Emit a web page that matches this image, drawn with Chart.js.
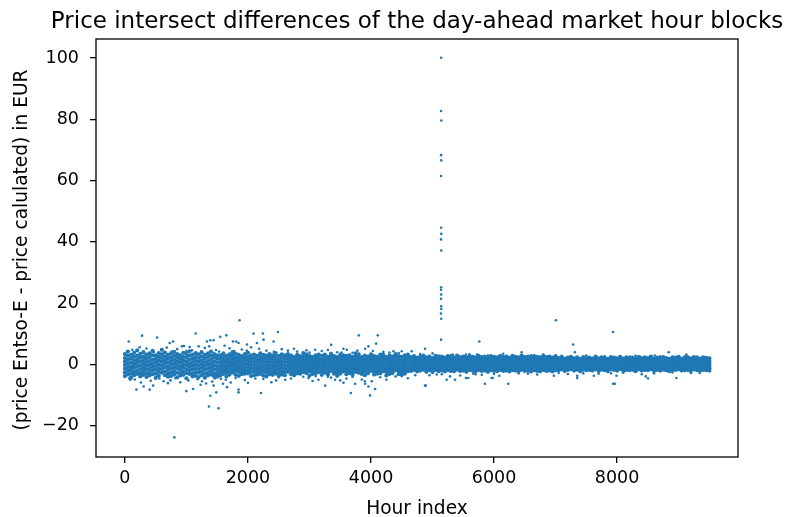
<!DOCTYPE html>
<html>
<head>
<meta charset="utf-8">
<title>Price intersect differences</title>
<script src="https://cdn.jsdelivr.net/npm/chart.js@4/dist/chart.umd.min.js"></script>
<style>
  html, body { margin: 0; padding: 0; background: #fff; }
  canvas { display: block; }
</style>
</head>
<body>
<canvas id="diffChart" width="785" height="517"></canvas>
<script>
const chartTitle = 'Price intersect differences of the day-ahead market hour blocks';
const xAxisTitle = 'Hour index';
const yAxisTitle = '(price Entso-E - price calulated) in EUR';

const hourTicks = [0, 2000, 4000, 6000, 8000];
const diffTicks = [-20, 0, 20, 40, 60, 80, 100];

// dense band around zero, one column of values every 50 hours
const bandStep = 50;

// hours 0 - 1500
const bandEarly = [
  [3.4,2.1,0.9,-0.2,-1.4,-2.6,-3.8],
  [4.2,2.8,1.5,0.3,-0.9,-2.1,-3.3],
  [3.1,1.9,0.6,-0.6,-1.8,-3.0,-4.3],
  [3.8,2.5,1.2,0.1,-1.1,-2.4,-3.5],
  [2.9,1.7,0.5,-0.7,-1.9,-3.1,4.6],
  [3.5,2.3,1.0,-0.3,-1.5,-2.8,-3.9],
  [4.0,2.6,1.4,0.2,-1.0,-2.2,-3.4],
  [3.2,2.0,0.8,-0.4,-1.6,-2.9,-4.1],
  [3.6,2.4,1.1,-0.1,-1.3,-2.5,-3.6],
  [4.4,3.0,1.6,0.4,-0.8,-2.0,-3.2],
  [3.0,1.8,0.7,-0.5,-1.7,-3.0,-4.4],
  [3.7,2.5,1.3,0.0,-1.2,-2.4,-3.7],
  [3.3,2.1,0.9,-0.3,-1.5,-2.7,4.8],
  [3.9,2.6,1.4,0.2,-1.0,-2.3,-3.5],
  [3.1,1.9,0.6,-0.6,-1.8,-3.1,-4.0],
  [3.6,2.3,1.1,-0.1,-1.3,-2.6,-3.8],
  [4.1,2.8,1.5,0.3,-0.9,-2.2,-3.3],
  [3.4,2.2,1.0,-0.2,-1.4,-2.7,-4.2],
  [3.0,1.8,0.6,-0.6,-1.8,-3.0,-3.6],
  [3.8,2.5,1.3,0.1,-1.1,-2.4,-3.4],
  [3.5,2.3,1.0,-0.2,-1.5,-2.8,-4.5],
  [4.3,2.9,1.6,0.4,-0.8,-2.0,-3.1],
  [3.2,2.0,0.8,-0.4,-1.6,-2.9,-3.9],
  [3.7,2.4,1.2,0.0,-1.2,-2.5,-3.7],
  [3.3,2.1,0.9,-0.3,-1.5,-2.7,-4.1],
  [3.9,2.6,1.3,0.1,-1.1,-2.3,-3.5],
  [3.1,1.9,0.7,-0.5,-1.7,-3.0,-4.3],
  [3.6,2.4,1.1,-0.1,-1.3,-2.6,-3.6],
  [4.2,2.8,1.5,0.3,-0.9,-2.1,-3.3],
  [3.4,2.2,0.9,-0.3,-1.5,-2.8,-3.9],
  [3.0,1.8,0.6,-0.6,-1.8,-3.0,-4.0]
];

// hours 1550 - 2600
const bandSecond = [
  [3.0,1.9,0.8,-0.3,-1.4,-2.5,-3.6],
  [3.6,2.4,1.3,0.2,-0.9,-2.0,-3.1],
  [2.8,1.7,0.6,-0.5,-1.6,-2.7,-3.9],
  [3.3,2.2,1.1,0.0,-1.1,-2.2,-3.3],
  [2.9,1.8,0.7,-0.4,-1.5,-2.6,4.0],
  [3.5,2.3,1.2,0.1,-1.0,-2.1,-3.4],
  [3.1,2.0,0.9,-0.2,-1.3,-2.4,-3.7],
  [2.7,1.6,0.5,-0.6,-1.7,-2.8,-3.2],
  [3.4,2.3,1.2,0.1,-1.0,-2.1,-3.0],
  [3.8,2.5,1.4,0.3,-0.8,-1.9,-2.9],
  [3.0,1.9,0.8,-0.3,-1.4,-2.5,-3.8],
  [3.2,2.1,1.0,-0.1,-1.2,-2.3,-3.5],
  [2.8,1.7,0.6,-0.5,-1.6,-2.7,-3.3],
  [3.6,2.4,1.3,0.2,-0.9,-2.0,-3.1],
  [3.1,2.0,0.9,-0.2,-1.3,-2.4,-3.6],
  [2.9,1.8,0.7,-0.4,-1.5,-2.6,-3.9],
  [3.4,2.3,1.2,0.1,-1.0,-2.1,-3.2],
  [3.0,1.9,0.8,-0.3,-1.4,-2.5,-3.4],
  [3.7,2.5,1.3,0.2,-0.9,-2.0,-3.0],
  [2.8,1.7,0.6,-0.5,-1.6,-2.7,-3.7],
  [3.3,2.2,1.1,0.0,-1.1,-2.2,-3.3],
  [3.0,1.9,0.8,-0.3,-1.4,-2.5,-3.5]
];

// hours 2650 - 4600
const bandMiddle = [
  [2.6,1.6,0.6,-0.4,-1.4,-2.4,3.4],
  [2.9,1.9,0.9,-0.1,-1.1,-2.1,-3.2],
  [2.4,1.4,0.4,-0.6,-1.6,-2.6,-3.5],
  [3.1,2.1,1.1,0.1,-0.9,-1.9,-2.9],
  [2.7,1.7,0.7,-0.3,-1.3,-2.3,-3.0],
  [2.5,1.5,0.5,-0.5,-1.5,-2.5,3.7],
  [3.3,2.2,1.2,0.2,-0.8,-1.8,-2.8],
  [2.8,1.8,0.8,-0.2,-1.2,-2.2,-3.6],
  [2.4,1.5,0.5,-0.5,-1.5,-2.4,-3.1],
  [3.0,2.0,1.0,0.0,-1.0,-2.0,-2.9],
  [2.6,1.6,0.6,-0.4,-1.4,-2.5,3.2],
  [2.8,1.7,0.7,-0.3,-1.3,-2.3,-3.4],
  [3.2,2.2,1.2,0.2,-0.8,-1.8,-2.7],
  [2.5,1.5,0.5,-0.5,-1.5,-2.6,-3.3],
  [2.9,1.9,0.9,-0.1,-1.1,-2.1,3.5],
  [2.7,1.6,0.6,-0.4,-1.4,-2.4,-3.0],
  [2.4,1.4,0.4,-0.6,-1.6,-2.6,-3.7],
  [3.1,2.0,1.0,0.0,-1.0,-2.0,-3.0],
  [2.6,1.7,0.7,-0.3,-1.3,-2.3,3.0],
  [2.8,1.8,0.8,-0.2,-1.2,-2.2,-3.2],
  [3.0,2.1,1.1,0.1,-0.9,-1.9,-2.8],
  [2.5,1.5,0.5,-0.5,-1.5,-2.5,-3.4],
  [2.7,1.7,0.7,-0.3,-1.3,-2.4,3.6],
  [3.3,2.3,1.3,0.3,-0.7,-1.7,-2.7],
  [2.4,1.4,0.4,-0.6,-1.6,-2.6,-3.1],
  [2.9,1.8,0.8,-0.2,-1.2,-2.2,-3.5],
  [2.6,1.6,0.6,-0.4,-1.4,-2.4,-2.9],
  [3.0,2.0,1.0,0.0,-1.0,-2.1,3.3],
  [2.7,1.7,0.7,-0.3,-1.3,-2.3,-3.3],
  [2.5,1.5,0.5,-0.5,-1.5,-2.5,-3.0],
  [3.2,2.1,1.1,0.1,-0.9,-1.9,-2.9],
  [2.8,1.8,0.8,-0.2,-1.2,-2.2,3.1],
  [2.4,1.5,0.5,-0.5,-1.5,-2.5,-3.6],
  [2.9,1.9,0.9,-0.1,-1.1,-2.1,-3.1],
  [2.6,1.6,0.6,-0.4,-1.4,-2.4,-2.8],
  [3.1,2.1,1.1,0.1,-0.9,-1.9,3.4],
  [2.7,1.7,0.7,-0.3,-1.3,-2.3,-3.2],
  [2.5,1.4,0.4,-0.6,-1.6,-2.6,-3.4],
  [3.0,2.0,1.0,0.0,-1.0,-2.0,-3.0],
  [2.8,1.8,0.8,-0.2,-1.2,-2.2,3.2]
];

// hours 4650 - 7000
const bandLate = [
  [2.4,1.5,0.6,-0.3,-1.2,-2.1],
  [2.7,1.8,0.9,0.0,-0.9,-1.8],
  [2.2,1.3,0.4,-0.5,-1.4,-2.3],
  [2.5,1.6,0.7,-0.2,-1.1,-2.0],
  [2.9,1.9,1.0,0.1,-0.8,-1.7],
  [2.3,1.4,0.5,-0.4,-1.3,-2.4],
  [2.6,1.7,0.8,-0.1,-1.0,-1.9],
  [2.1,1.2,0.3,-0.6,-1.5,-2.5],
  [2.8,1.8,0.9,0.0,-0.9,-1.8],
  [2.4,1.5,0.6,-0.3,-1.2,-2.2],
  [2.6,1.6,0.7,-0.2,-1.1,-2.0],
  [2.2,1.3,0.4,-0.5,-1.4,-2.3],
  [2.7,1.8,0.9,0.0,-0.9,-1.9],
  [2.5,1.6,0.7,-0.2,-1.1,-2.1],
  [2.3,1.4,0.5,-0.4,-1.3,-2.2],
  [2.9,2.0,1.1,0.2,-0.7,-1.7],
  [2.4,1.5,0.6,-0.3,-1.2,-2.1],
  [2.6,1.7,0.8,-0.1,-1.0,-2.0],
  [2.2,1.3,0.4,-0.5,-1.4,-2.4],
  [2.7,1.8,0.9,0.0,-0.9,-1.8],
  [2.5,1.6,0.7,-0.2,-1.1,-2.0],
  [2.3,1.4,0.5,-0.4,-1.3,-2.3],
  [2.8,1.9,1.0,0.1,-0.8,-1.8],
  [2.4,1.5,0.6,-0.3,-1.2,-2.1],
  [2.6,1.6,0.7,-0.2,-1.1,-2.0],
  [2.1,1.2,0.3,-0.6,-1.5,-2.4],
  [2.7,1.8,0.9,0.0,-0.9,-1.9],
  [2.5,1.6,0.7,-0.2,-1.1,-2.1],
  [2.3,1.4,0.5,-0.4,-1.3,-2.2],
  [2.8,1.8,0.9,0.0,-0.9,-1.8],
  [2.4,1.5,0.6,-0.3,-1.2,-2.1],
  [2.6,1.7,0.8,-0.1,-1.0,-2.0],
  [2.2,1.3,0.4,-0.5,-1.4,-2.3],
  [2.7,1.8,0.9,0.0,-0.9,-1.9],
  [2.5,1.6,0.7,-0.2,-1.1,-2.0],
  [2.3,1.4,0.5,-0.4,-1.3,-2.2],
  [2.9,1.9,1.0,0.1,-0.8,-1.7],
  [2.4,1.5,0.6,-0.3,-1.2,-2.1],
  [2.6,1.6,0.7,-0.2,-1.1,-2.0],
  [2.2,1.3,0.4,-0.5,-1.4,-2.3],
  [2.7,1.8,0.9,0.0,-0.9,-1.9],
  [2.5,1.6,0.7,-0.2,-1.1,-2.1],
  [2.3,1.4,0.5,-0.4,-1.3,-2.2],
  [2.8,1.9,1.0,0.1,-0.8,-1.8],
  [2.4,1.5,0.6,-0.3,-1.2,-2.1],
  [2.6,1.7,0.8,-0.1,-1.0,-2.0],
  [2.2,1.3,0.4,-0.5,-1.4,-2.3],
  [2.7,1.8,0.9,0.0,-0.9,-1.9]
];

// hours 7050 - 9500
const bandEnd = [
  [2.1,1.3,0.5,-0.3,-1.1,-1.9],
  [2.4,1.6,0.8,0.0,-0.8,-1.6],
  [1.9,1.1,0.3,-0.5,-1.3,-2.1],
  [2.2,1.4,0.6,-0.2,-1.0,-1.8],
  [2.5,1.7,0.9,0.1,-0.7,-1.5],
  [2.0,1.2,0.4,-0.4,-1.2,-2.0],
  [2.3,1.5,0.7,-0.1,-0.9,-1.7],
  [1.8,1.0,0.2,-0.6,-1.4,-2.2],
  [2.4,1.6,0.8,0.0,-0.8,-1.7],
  [2.1,1.3,0.5,-0.3,-1.1,-1.9],
  [2.2,1.4,0.6,-0.2,-1.0,-1.8],
  [1.9,1.1,0.3,-0.5,-1.3,-2.0],
  [2.6,1.7,0.9,0.1,-0.7,-1.6],
  [2.0,1.2,0.4,-0.4,-1.2,-2.1],
  [2.3,1.5,0.7,-0.1,-0.9,-1.7],
  [2.1,1.3,0.5,-0.3,-1.1,-1.9],
  [1.8,1.0,0.2,-0.6,-1.4,-2.2],
  [2.4,1.6,0.8,0.0,-0.8,-1.6],
  [2.2,1.4,0.6,-0.2,-1.0,-1.8],
  [2.0,1.2,0.4,-0.4,-1.2,-2.0],
  [2.5,1.7,0.9,0.1,-0.7,-1.5],
  [1.9,1.1,0.3,-0.5,-1.3,-2.1],
  [2.3,1.5,0.7,-0.1,-0.9,-1.8],
  [2.1,1.3,0.5,-0.3,-1.1,-1.9],
  [2.2,1.4,0.6,-0.2,-1.0,-1.7],
  [1.8,1.0,0.2,-0.6,-1.4,-2.2],
  [2.4,1.6,0.8,0.0,-0.8,-1.6],
  [2.0,1.2,0.4,-0.4,-1.2,-2.0],
  [2.3,1.5,0.7,-0.1,-0.9,-1.8],
  [2.1,1.3,0.5,-0.3,-1.1,-1.9],
  [2.6,1.7,0.9,0.1,-0.7,-1.5],
  [1.9,1.1,0.3,-0.5,-1.3,-2.1],
  [2.2,1.4,0.6,-0.2,-1.0,-1.8],
  [2.0,1.2,0.4,-0.4,-1.2,-2.0],
  [2.4,1.6,0.8,0.0,-0.8,-1.7],
  [2.1,1.3,0.5,-0.3,-1.1,-1.9],
  [1.8,1.0,0.2,-0.6,-1.4,-2.2],
  [2.3,1.5,0.7,-0.1,-0.9,-1.7],
  [2.2,1.4,0.6,-0.2,-1.0,-1.8],
  [2.5,1.7,0.9,0.1,-0.7,-1.6],
  [1.9,1.1,0.3,-0.5,-1.3,-2.0],
  [2.1,1.3,0.5,-0.3,-1.1,-1.9],
  [2.3,1.5,0.7,-0.1,-0.9,-1.8],
  [2.0,1.2,0.4,-0.4,-1.2,-2.1],
  [2.4,1.6,0.8,0.0,-0.8,-1.6],
  [2.2,1.4,0.6,-0.2,-1.0,-1.9],
  [1.9,1.1,0.3,-0.5,-1.3,-2.0],
  [2.3,1.5,0.7,-0.1,-0.9,-1.8],
  [2.1,1.3,0.5,-0.3,-1.1,-1.9],
  [2.0,1.2,0.4,-0.4,-1.2,-2.0]
];

// the hour-5140 spike, [hour, difference]
const spikePoints = [
  [5140,100.1],[5138,82.7],[5142,79.6],[5139,68.3],[5141,66.6],[5138,61.5],
  [5140,44.6],[5142,42.6],[5139,40.8],[5141,37.2],[5140,25.2],[5138,24.4],
  [5141,22.8],[5139,21.4],[5140,19.0],[5142,18.1],[5138,16.6],[5141,14.9],[5139,8.1]
];

// scattered points outside the band, [hour, difference]
const outlierPoints = [
  [803,-23.8],[1864,14.4],[279,9.4],[523,8.8],[62,7.5],[1150,10.1],[728,7.0],[782,7.5],
  [1334,7.5],[1388,7.9],[1442,7.9],[1550,9.0],[1648,9.5],[2091,10.1],[2243,10.1],[2487,10.6],
  [1810,7.5],[1756,7.5],[1847,7.0],[1984,6.5],[2146,7.0],[2253,8.1],[2416,7.5],
  [928,5.9],[1052,5.7],[1198,5.9],[187,-8.2],[403,-8.2],[458,-6.9],[998,-8.7],[1107,-8.0],
  [1388,-10.2],[1485,-9.1],[1366,-13.7],[1523,-14.3],[1847,-8.2],[1847,-9.1],[1659,-7.4],
  [1594,-6.3],[2211,-9.3],[2459,-5.2],[1442,-6.9],[1253,-5.5],[305,-7.2],[89,-5.0],
  [630,-5.5],[739,-5.2],[3802,9.5],[4110,9.5],[3672,-9.3],[3985,-10.1],[4878,-6.9],
  [3352,6.4],[2747,5.1],[3093,4.8],[3552,5.1],[3607,4.8],[3904,5.1],[3958,5.9],[4083,6.8],
  [4364,4.3],[4500,4.3],[4662,4.3],[4878,5.1],[3904,-6.3],[4013,-5.5],[4067,-8.0],
  [3958,-7.2],[3255,-6.9],[2984,-4.4],[3146,-5.0],[2606,-5.0],[3552,-6.0],[3742,-6.3],
  [5068,-3.3],[3417,-5.0],[4719,-3.5],[7005,14.4],[5760,7.5],[7286,6.5],[7313,4.0],
  [6448,4.0],[5544,3.2],[5727,3.2],[5328,3.2],[6149,3.5],[5231,-5.0],[5365,-5.0],
  [5284,-3.9],[5852,-6.3],[6231,-6.3],[5977,-4.4],[6085,-3.7],[5581,-4.4],[5662,-3.0],
  [6972,-3.7],[7351,-4.4],[7351,-3.7],[7622,-3.7],[7935,10.6],[8839,4.0],[9127,3.2],
  [8044,2.6],[8206,2.6],[8369,2.6],[8612,2.9],[7990,-3.7],[7963,-6.3],[7935,-6.3],
  [8466,-3.9],[8503,-4.6],[8964,-4.4],[9343,-2.8],[4889,-6.9],[5544,-4.4],[5961,-4.4],
  [120,4.8],[350,5.2],[600,4.6],[850,5.0],[1000,4.4],[1300,5.4],[1480,4.7],[1700,5.3],
  [1900,4.9],[2050,5.6],[2300,4.5],[2550,5.0],[160,-4.9],[420,-5.3],[560,-4.6],[900,-5.8],
  [1180,-4.8],[1320,-6.2],[1420,-5.6],[1560,-4.7],[1720,-5.9],[1950,-5.1],[2120,-4.6],
  [2380,-5.8],[2800,4.2],[3000,3.9],[3200,4.4],[3450,4.0],[3700,3.8],[4200,4.1],[4450,3.7],
  [2900,-4.0],[3100,-3.8],[3350,-4.3],[3600,-4.6],[3850,-4.9],[4150,-4.2],[4400,-3.9],
  [4600,-4.5],[4800,3.4],[5000,3.6],[5300,3.0],[5600,3.3],[5900,2.9],[6300,3.1],[6600,3.0],
  [6800,3.2],[7100,2.8],[7500,2.9],[7800,2.7],[8300,2.8],[8700,2.7],[9000,2.6],[9300,2.5],
  [4950,-3.5],[5150,-3.2],[5450,-3.6],[5700,-3.2],[6000,-3.1],[6400,-2.9],[6700,-3.3],
  [7050,-2.8],[7450,-2.9],[7700,-3.0],[8100,-2.7],[8600,-2.9],[8900,-2.6],[9200,-2.8],
  [40,4.3],[240,5.6],[470,4.1],[680,5.5],[760,4.2],[960,6.0],[1090,4.6],[1240,4.3],
  [1370,5.9],[1530,4.2],[1620,6.1],[1780,4.4],[1980,4.5],[2180,5.1],[2420,4.1],[2650,4.5],
  [2950,4.6],[3300,4.7],[3520,3.9],[3780,4.5],[4030,4.4],[4300,3.9],
  [70,-4.6],[260,-5.9],[500,-4.4],[700,-6.1],[820,-4.5],[1030,-5.2],[1230,-6.6],[1290,-4.4],
  [1460,-4.6],[1640,-5.0],[1800,-4.4],[2000,-6.0],[2250,-4.7],[2500,-4.2],[2700,-4.6],
  [3050,-5.4],[3300,-4.0],[3500,-5.2],[3700,-4.1],[3900,-5.5],[4250,-5.0],[4500,-3.8],
  [5100,2.9],[5800,-3.4],[6550,-3.0],[7200,-3.1],[7900,-2.9],[8400,-3.2],[9100,2.7],[9450,2.4]
];

const pointColor = '#1f77b4';

function bandPoints(startHour, columns) {
    return columns.flatMap((col, i) => col.map(v => ({ x: startHour + i * bandStep, y: v })));
}

const bandData = [
    ...bandPoints(0, bandEarly),
    ...bandPoints(1550, bandSecond),
    ...bandPoints(2650, bandMiddle),
    ...bandPoints(4650, bandLate),
    ...bandPoints(7050, bandEnd)
];
const scatterData = spikePoints.concat(outlierPoints).map(([h, d]) => ({ x: h, y: d }));

// frame box and the three titles, placed against the plot area like matplotlib does
const framePlugin = {
    id: 'frame',
    afterDraw(chart) {
        const { ctx, chartArea: a } = chart;
        const midX = (a.left + a.right) / 2;
        ctx.save();
        ctx.strokeStyle = '#000';
        ctx.lineWidth = 1.3;
        ctx.strokeRect(a.left, a.top, a.right - a.left, a.bottom - a.top);
        ctx.fillStyle = '#000';
        ctx.textAlign = 'center';
        ctx.textBaseline = 'alphabetic';
        ctx.font = '23px "DejaVu Sans"';
        ctx.fillText(chartTitle, midX, 28);
        ctx.font = '18.6px "DejaVu Sans"';
        ctx.fillText(xAxisTitle, midX, 514);
        ctx.translate(27, (a.top + a.bottom) / 2 + 2);
        ctx.rotate(-Math.PI / 2);
        ctx.fillText(yAxisTitle, 0, 0);
        ctx.restore();
    }
};

Chart.defaults.font.family = '"DejaVu Sans"';
Chart.defaults.font.size = 17.5;
Chart.defaults.color = '#000';

const ctx = document.getElementById('diffChart').getContext('2d');

new Chart(ctx, {
    type: 'scatter',
    data: {
        datasets: [
            {
                label: 'band',
                data: bandData,
                backgroundColor: pointColor,
                borderWidth: 0,
                pointRadius: 2.1
            },
            {
                label: 'outliers',
                data: scatterData,
                backgroundColor: pointColor,
                borderWidth: 0,
                pointRadius: 1.3
            }
        ]
    },
    options: {
        responsive: false,
        animation: false,
        layout: { padding: { top: 39, right: 47, left: 0, bottom: 0 } },
        plugins: {
            legend: { display: false },
            tooltip: { enabled: false }
        },
        scales: {
            x: {
                type: 'linear',
                min: -470,
                max: 9965,
                afterBuildTicks: scale => { scale.ticks = hourTicks.map(v => ({ value: v })); },
                afterFit: scale => { scale.height = 60; },
                border: { display: false },
                grid: { drawOnChartArea: false, drawTicks: true, tickLength: 6, color: '#000', lineWidth: 1.3 },
                ticks: { padding: 5, maxRotation: 0, callback: v => String(v) }
            },
            y: {
                type: 'linear',
                min: -30.2,
                max: 106.2,
                afterBuildTicks: scale => { scale.ticks = diffTicks.map(v => ({ value: v })); },
                afterFit: scale => { scale.width = 96; },
                border: { display: false },
                grid: { drawOnChartArea: false, drawTicks: true, tickLength: 6, color: '#000', lineWidth: 1.3 },
                ticks: { padding: 11, callback: v => String(v).replace('-', '\u2212') }
            }
        }
    },
    plugins: [framePlugin]
});
</script>
</body>
</html>
